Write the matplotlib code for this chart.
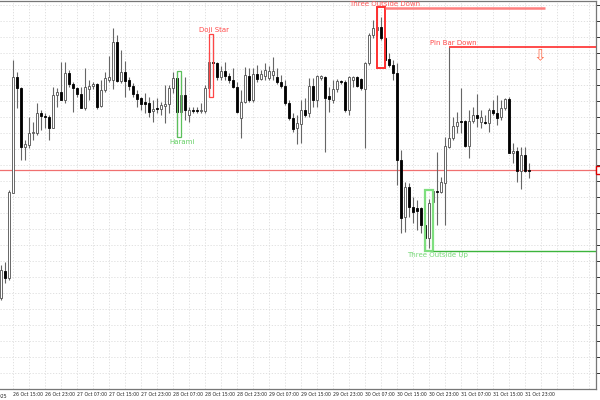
import matplotlib
matplotlib.use("Agg")
import matplotlib.pyplot as plt
from matplotlib.patches import Rectangle
import numpy as np
import pandas as pd

# ---- hourly OHLC ----
opens = [3951, 3964.5, 3961, 4003.5, 4061.5, 4056, 4026.5, 4027.5, 4033.5, 4033.5,
         4043.5, 4042, 4041.5, 4036, 4052.5, 4054, 4050, 4063.5, 4058, 4056,
         4053, 4046, 4055.5, 4057, 4058, 4047, 4055, 4060, 4060, 4079,
         4059.5, 4064, 4060, 4057, 4053, 4051, 4049, 4048.5, 4044.5, 4046,
         4045.5, 4047, 4048, 4056, 4061, 4044, 4052.5, 4042.5, 4045, 4045,
         4044.5, 4044.5, 4056, 4069, 4068.5, 4061.5, 4064.5, 4062, 4060, 4056.5,
         4041, 4049, 4062, 4050, 4063, 4060.5, 4062, 4061, 4062.5, 4061.5,
         4059, 4057, 4048.5, 4041, 4036, 4038, 4045, 4043.5, 4057, 4050,
         4061, 4061.5, 4052, 4050, 4055.5, 4059.5, 4059, 4045, 4060, 4061.5,
         4060.5, 4055.5, 4068.5, 4082.5, 4085, 4086.5, 4081, 4070.5, 4067.5, 4063.5,
         4020, 3991.5, 4006.5, 3996.5, 3996, 3996, 3987.5, 3981, 3999, 4004.5,
         4004, 4008.5, 4026.5, 4031, 4037, 4039.5, 4039.5, 4027, 4039.5, 4042.5,
         4039, 4039, 4038.5, 4045, 4043.5, 4041.5, 4046, 4050.5, 4023.5, 4024.5,
         4014.5, 4022.5, 4015]
highs = [3967.5, 3969, 4005, 4070, 4064, 4056.5, 4030, 4041.5, 4039, 4048.5,
         4045, 4043.5, 4042.5, 4056.5, 4056, 4069, 4069, 4065, 4059, 4056.5,
         4056.5, 4066, 4060, 4059, 4058.5, 4060, 4064, 4072, 4086, 4082.5,
         4075, 4069.5, 4061.5, 4058.5, 4055, 4051.5, 4053.5, 4051.5, 4050, 4051,
         4049, 4057.5, 4057.5, 4064, 4064.5, 4062.5, 4061.5, 4046.5, 4046.5, 4046.5,
         4048.5, 4057.5, 4074, 4083, 4069, 4067, 4069, 4063.5, 4066, 4059,
         4055, 4066.5, 4066, 4066, 4067.5, 4065, 4068.5, 4067, 4071.5, 4066,
         4062.5, 4060, 4050, 4043.5, 4042.5, 4050, 4051, 4061, 4061, 4062.5,
         4062.5, 4062, 4056.5, 4060, 4060.5, 4060, 4060, 4062, 4062, 4062,
         4061, 4069, 4083.5, 4090, 4096.5, 4091.5, 4081.5, 4073.5, 4070, 4068.5,
         4025, 4009, 4008.5, 4001.5, 4000, 3996.5, 3990, 4000.5, 4005, 4024,
         4011.5, 4031.5, 4076.5, 4041.5, 4044, 4056, 4040, 4045, 4046.5, 4053,
         4045, 4042.5, 4046, 4050, 4052.5, 4050, 4051, 4051.5, 4028.5, 4026.5,
         4026.5, 4026.5, 4018.5]
lows = [3950, 3958.5, 3960, 4003.5, 4046, 4020, 4020, 4026, 4030, 4032.5,
        4035, 4036, 4030, 4036, 4046.5, 4050, 4048.5, 4056.5, 4044, 4051.5,
        4046, 4045, 4050, 4055.5, 4045.5, 4046.5, 4054, 4059, 4055.5, 4059,
        4058.5, 4051.5, 4055, 4051.5, 4046.5, 4045, 4043.5, 4041.5, 4039, 4043.5,
        4042.5, 4038.5, 4043.5, 4053.5, 4031.5, 4042.5, 4040, 4039, 4043.5, 4043.5,
        4043.5, 4043.5, 4051.5, 4061.5, 4060, 4060, 4060, 4058.5, 4056, 4043.5,
        4031, 4048.5, 4049, 4049, 4059, 4060, 4060, 4060, 4060, 4058,
        4056, 4047.5, 4040, 4034, 4028, 4028.5, 4041.5, 4041.5, 4046.5, 4046.5,
        4060, 4024, 4044, 4048.5, 4054, 4058, 4044, 4042.5, 4056.5, 4056.5,
        4055, 4026, 4067.5, 4081, 4082, 4080, 4066, 4066.5, 4060, 4007.5,
        3983.5, 3984, 3991.5, 3988.5, 3985, 3983.5, 3974.5, 3976, 3998.5, 3987.5,
        4003.5, 3987.5, 4026, 4030, 4033.5, 4033.5, 4026.5, 4021, 4038.5, 4036.5,
        4036, 4038, 4034, 4042.5, 4037.5, 4040, 4045, 4023.5, 4018.5, 4009,
        4005.5, 4014, 4011]
closes = [3965, 3961, 4004, 4061.5, 4056, 4026.5, 4028, 4033.5, 4034, 4043.5,
          4042, 4041.5, 4036, 4052.5, 4054, 4050, 4063.5, 4058, 4056, 4053,
          4046, 4056.5, 4057, 4058, 4046.5, 4055, 4061, 4061.5, 4079, 4059.5,
          4064, 4059.5, 4057, 4053, 4050.5, 4048, 4048, 4044, 4045.5, 4045.5,
          4047.5, 4048, 4056, 4061, 4044, 4052.5, 4045, 4045, 4044.5, 4044.5,
          4045, 4056, 4069, 4068.5, 4061.5, 4064.5, 4062, 4060, 4056.5, 4044,
          4049, 4062.5, 4050, 4063, 4060.5, 4063, 4065, 4064.5, 4064.5, 4059,
          4057, 4048.5, 4041, 4035.5, 4038.5, 4045, 4042.5, 4057, 4050, 4062,
          4062, 4051, 4050.5, 4055.5, 4059.5, 4059, 4045, 4061.5, 4061.5, 4057,
          4056, 4068.5, 4082.5, 4086, 4086.5, 4081, 4070, 4067.5, 4063.5, 4020,
          3991, 4006.5, 3996.5, 3994, 3994.5, 3987.5, 3981, 3998.5, 4004.5, 4004,
          4009, 4027, 4031, 4037, 4039, 4039, 4027, 4039.5, 4042.5, 4041,
          4041.5, 4038.5, 4045, 4043.5, 4041, 4046, 4050.5, 4023.5, 4024.5, 4014.5,
          4022.5, 4014.5, 4014.5]
bid = 4015

# ---- detected patterns: name, first bar, last bar ----
pat_names = ["Harami", "Doji Star", "Three Outside Down", "Three Outside Up"]
pat_start = [44, 52, 94, 106]
pat_end = [45, 53, 96, 108]
pinbar_idx = 112
tod_line_end = 136

o = np.array(opens); h = np.array(highs); l = np.array(lows); c = np.array(closes)
n = len(o)
x = np.arange(n)
times = pd.date_range("2025-10-26 12:00", periods=n + 20, freq="h")

fig = plt.figure(figsize=(6, 4), dpi=100)
ax = fig.add_axes([0, 11 / 400, 596 / 600, 388 / 400])
ax.set_xlim(-0.25, 148.75)
ax.set_ylim(3905.5, 4099.5)

# grid
yt = np.arange(3913.5, 4099, 8)
ax.set_yticks(yt)
ax.set_xticks(np.arange(3, 149, 4))
ax.grid(True, color="#dcdcdc", linestyle=(0, (1.5, 2)), linewidth=0.6)
ax.set_axisbelow(True)

# candles
ax.vlines(x, l, h, color="#666666", linewidth=0.8, zorder=2)
up = c >= o
body_lo = np.minimum(o, c)
body_h = np.abs(c - o)
ax.bar(x[up], body_h[up], bottom=body_lo[up], width=0.72, color="white",
       edgecolor="#505050", linewidth=0.6, zorder=3)
ax.bar(x[~up], body_h[~up], bottom=body_lo[~up], width=0.72, color="black",
       edgecolor="black", linewidth=0.6, zorder=3)

# bid line
ax.axhline(bid, color="#f07070", linewidth=0.9, zorder=1)
ax.text(1.003, bid, "4015.00", transform=ax.get_yaxis_transform(), fontsize=4,
        va="center", ha="left", color="white", clip_on=False,
        bbox=dict(boxstyle="square,pad=0.35", fc="#ffffff", ec="#dd0000", lw=1))

# pattern boxes
box_col = {"Harami": "#5cc05c", "Doji Star": "#ff4646",
           "Three Outside Down": "#ff3030", "Three Outside Up": "#7fdf7f"}
box_lw = {"Harami": 0.9, "Doji Star": 0.9, "Three Outside Down": 1.4, "Three Outside Up": 1.6}
for name, s, e in zip(pat_names, pat_start, pat_end):
    top = h[s:e + 1].max()
    bot = l[s:e + 1].min()
    ax.add_patch(Rectangle((s, bot), e - s, top - bot, fill=False,
                           edgecolor=box_col[name], linewidth=box_lw[name], zorder=4))

# pattern labels
ax.text(45.3, l[44:46].min() - 0.8, "Harami", color="#66d066", fontsize=5,
        ha="center", va="top", zorder=5)
ax.text(53.3, h[52:54].max() + 0.6, "Doji Star", color="#ff4a4a", fontsize=5,
        ha="center", va="bottom", zorder=5)
ax.text(96, h[94:97].max() + 0.2, "Three Outside Down", color="#ff5a5a", fontsize=5,
        ha="center", va="bottom", zorder=5, clip_on=False)
ax.text(109.2, l[106:109].min() - 0.6, "Three Outside Up", color="#77d877", fontsize=5,
        ha="center", va="top", zorder=5)
ax.text(113.1, h[pinbar_idx] + 0.3, "Pin Bar Down", color="#ff4a4a", fontsize=5,
        ha="center", va="bottom", zorder=5)

# level lines
ax.hlines(h[94:97].max() - 0.3, 96, tod_line_end, color="#ff8080", linewidth=1.8, zorder=4)
ax.hlines(l[106:109].min(), 108, 148.75, color="#3cb43c", linewidth=1.0, zorder=4)
ax.hlines(h[pinbar_idx], pinbar_idx, 148.75, color="#ff1a1a", linewidth=1.1, zorder=4)
ax.text(134.75, h[pinbar_idx] - 0.8, "\u21e9", color="#ff7050", fontsize=11,
        ha="center", va="top", zorder=5)

# axes styling
ax.spines["left"].set_visible(False)
for side in ["top", "right", "bottom"]:
    ax.spines[side].set_color("#777777")
    ax.spines[side].set_linewidth(0.9)

ax.yaxis.tick_right()
ax.set_yticklabels([f"{v:.2f}" for v in yt])
ax.tick_params(axis="y", which="both", length=3, width=0.7, colors="#333333",
               labelsize=4, pad=1.5)
xt = np.arange(3, 149, 4)
xl = [times[i].strftime("%d %b %H:%M") if (i - 3) % 8 == 0 and i < n else "" for i in xt]
ax.set_xticklabels(xl)
ax.tick_params(axis="x", length=0, labelsize=3.3, pad=2.5, colors="#222222")
for lab in ax.get_xticklabels():
    lab.set_ha("left")
ax.text(1.3, -0.012, "26 Oct 2025", transform=ax.get_xaxis_transform(), fontsize=3.3,
        ha="right", va="top", color="#222222", clip_on=False)

fig.savefig("out.png", dpi=100)
